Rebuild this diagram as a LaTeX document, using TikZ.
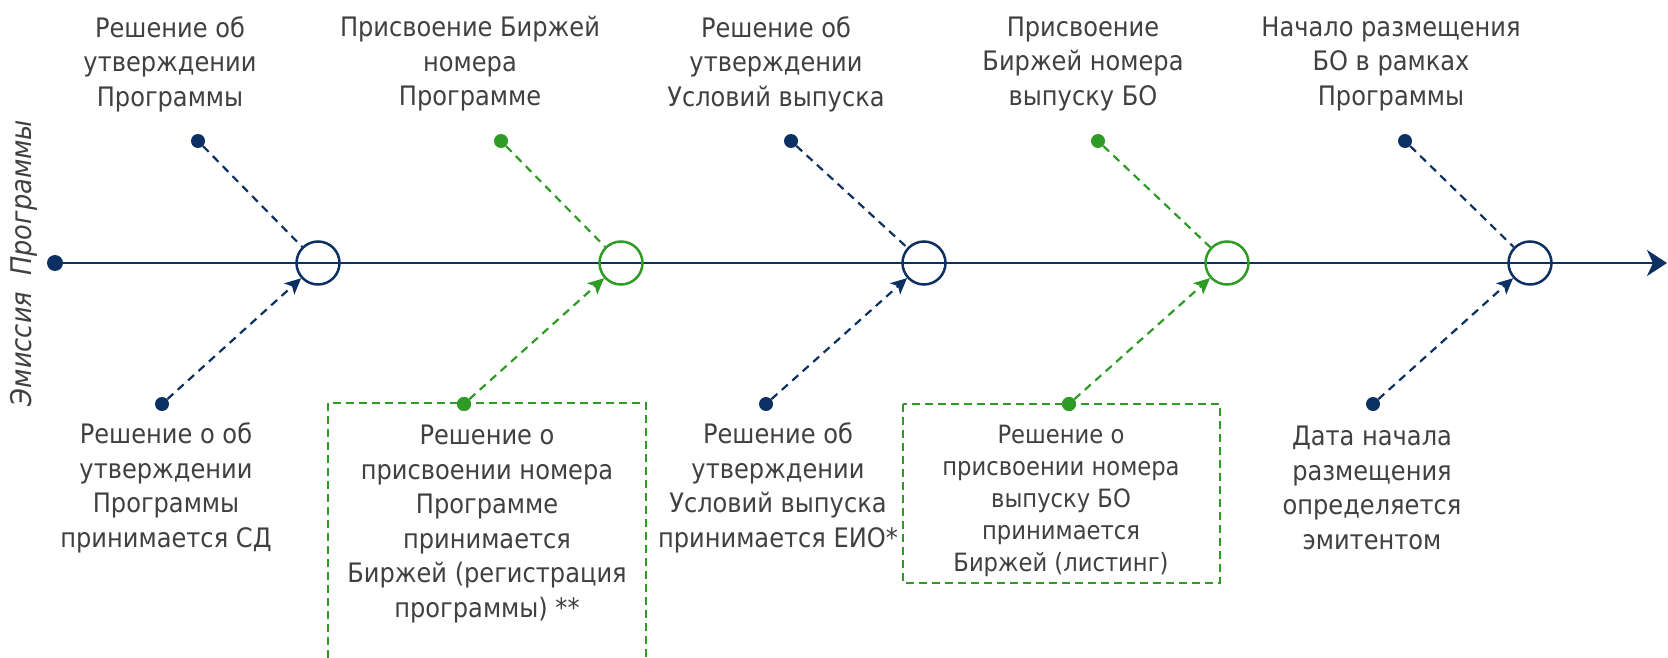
\documentclass[tikz,border=0pt]{standalone}
\usepackage{fontspec}
\setmainfont{DejaVu Sans}[FakeStretch=0.9]
\usetikzlibrary{arrows.meta}
\definecolor{navy}{HTML}{0B3061}
\definecolor{grn}{HTML}{2E9B25}
\definecolor{txt}{HTML}{404040}
\tikzset{
  lbl/.style={text=txt, align=center, inner sep=0pt, font=\fontsize{26.8}{34.5}\selectfont},
  lblsm/.style={text=txt, align=center, inner sep=0pt, font=\fontsize{25.2}{32}\selectfont},
  ring/.style={circle, draw=#1, line width=2.5pt, minimum size=43pt, inner sep=0pt},
  dot/.style={circle, fill=#1, inner sep=0pt, minimum size=14pt},
  feed/.style={draw=#1, line width=2.2pt, dash pattern=on 8pt off 6pt},
  feedarr/.style={feed=#1, -{Stealth[length=16pt,width=15pt,inset=4pt]}},
  boxline/.style={draw=grn, line width=2pt, dash pattern=on 8pt off 5pt}
}
\begin{document}
\begin{tikzpicture}[x=1pt,y=-1pt]
\useasboundingbox (0,0) rectangle (1668,658);
% main axis
\node[dot=navy, minimum size=16pt] (start) at (55,263) {};
\coordinate (end) at (1667,263);
\draw[navy, line width=2.7pt, -{Stealth[length=20pt,width=26pt,inset=6pt]}] (start.center) -- (end);
% rotated label
\node[text=txt, inner sep=0pt, rotate=90, font=\fontsize{28.5}{34}\selectfont\itshape] (axislbl) at (24,263) {Эмиссия\hspace{8pt} Программы};
% rings
\node[ring=navy] (c1) at (318,263) {};
\node[ring=grn]  (c2) at (621,263) {};
\node[ring=navy] (c3) at (924,263) {};
\node[ring=grn]  (c4) at (1227,263) {};
\node[ring=navy] (c5) at (1530,263) {};
% top dots
\node[dot=navy] (t1) at (198,141) {};
\node[dot=grn]  (t2) at (501,141) {};
\node[dot=navy] (t3) at (791,141) {};
\node[dot=grn]  (t4) at (1098,141) {};
\node[dot=navy] (t5) at (1405,141) {};
% bottom dots
\node[dot=navy] (b1) at (162,404) {};
\node[dot=grn]  (b2) at (464,404) {};
\node[dot=navy] (b3) at (766,404) {};
\node[dot=grn]  (b4) at (1069,404) {};
\node[dot=navy] (b5) at (1373,404) {};
% top dashed lines
\draw[feed=navy] (t1) -- (c1);
\draw[feed=grn]  (t2) -- (c2);
\draw[feed=navy] (t3) -- (c3);
\draw[feed=grn]  (t4) -- (c4);
\draw[feed=navy] (t5) -- (c5);
% bottom dashed arrows
\draw[feedarr=navy] (b1) -- (c1);
\draw[feedarr=grn]  (b2) -- (c2);
\draw[feedarr=navy] (b3) -- (c3);
\draw[feedarr=grn]  (b4) -- (c4);
\draw[feedarr=navy] (b5) -- (c5);
% green dashed boxes
\draw[boxline] (328,658) -- (328,403) -- (646,403) -- (646,658);
\draw[boxline] (903,404) rectangle (1220,583);
\node[dot=grn] at (b2) {};
\node[dot=grn] at (b4) {};
% top labels
\node[lbl] (L1) at (170,64) {Решение об\\утверждении\\Программы};
\node[lbl] (L2) at (470,64) {Присвоение Биржей\\номера\\Программе};
\node[lbl] (L3) at (776,64) {Решение об\\утверждении\\Условий выпуска};
\node[lbl] (L4) at (1083,64) {Присвоение\\Биржей номера\\выпуску БО};
\node[lbl] (L5) at (1391,64) {Начало размещения\\БО в рамках\\Программы};
% bottom labels
\node[lbl] (B1) at (166,488) {Решение о об\\утверждении\\Программы\\принимается СД};
\node[lbl] (B2) at (487,524) {Решение о\\присвоении номера\\Программе\\принимается\\Биржей (регистрация\\программы) **};
\node[lbl] (B3) at (778,488) {Решение об\\утверждении\\Условий выпуска\\принимается ЕИО*};
\node[lblsm] (B4) at (1061,501) {Решение о\\присвоении номера\\выпуску БО\\принимается\\Биржей (листинг)};
\node[lbl] (B5) at (1372,488) {Дата начала\\размещения\\определяется\\эмитентом};
\end{tikzpicture}
\end{document}
